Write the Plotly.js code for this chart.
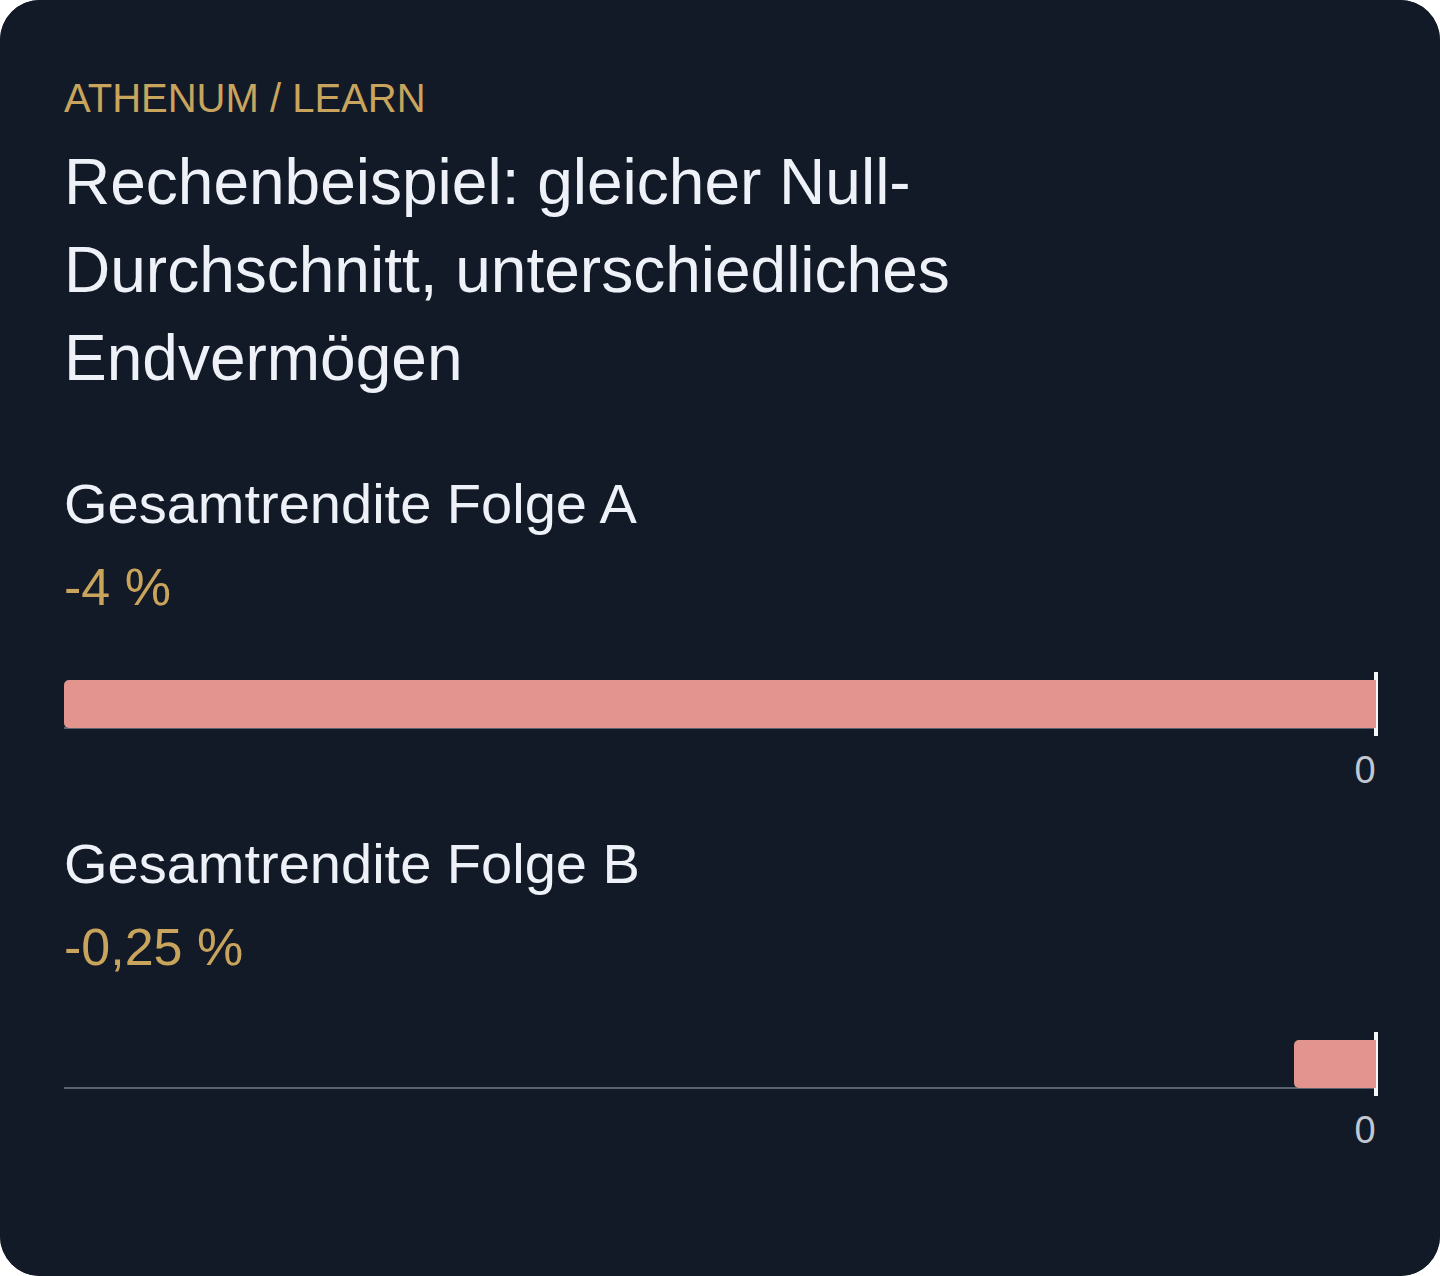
<!DOCTYPE html>
<html>
<head>
<meta charset="utf-8">
<script src="https://cdn.plot.ly/plotly-3.0.1.min.js"></script>
<style>
  html, body { margin: 0; padding: 0; background: #ffffff; }
  #card { width: 1440px; height: 1276px; border-radius: 40px; overflow: hidden; background: #131a27; }
</style>
</head>
<body>
<div id="card"><div id="chart" style="width:1440px;height:1276px;"></div></div>
<script>
// ---- data ----
const kicker = 'ATHENUM / LEARN';
const titleLines = ['Rechenbeispiel: gleicher Null-', 'Durchschnitt, unterschiedliches', 'Endvermögen'];
const seriesNames = ['Gesamtrendite Folge A', 'Gesamtrendite Folge B'];
const seriesValues = [-4, -0.25];
const valueLabels = ['-4 %', '-0,25 %'];
const tickValues = [0];
const tickLabels = ['0'];

// ---- layout helpers ----
const W = 1440, H = 1276;
const FONT = '"Liberation Sans", Arial, Helvetica, sans-serif';
const BG = '#131a27';
const GOLD = '#c9a45c';
const TEXT = '#eef2f8';
const BAR = '#e4948e';
const px = (y) => 1 - y / H;          // pixel row -> paper y
const plotLeft = 64, zeroPx = 1376, zeroPad = 2;   // keep room so the zero line is not clipped
const xdom = [plotLeft / W, (zeroPx + zeroPad) / W];
const plotTops = [672, 1032];
const plotH = 64;
const nameBase = [523, 883];
const valueBase = [605, 965];
const xmin = Math.min(...seriesValues);
const xmax = -xmin * zeroPad / (zeroPx - plotLeft);

// annotation centred vertically on (baseline - 0.3465*size)
function textAnn(text, baseline, size, color) {
  return {
    xref: 'paper', yref: 'paper', x: 62 / W, y: px(baseline - 0.3465 * size),
    xanchor: 'left', yanchor: 'middle', showarrow: false, align: 'left',
    text: text, font: { family: FONT, size: size, color: color }
  };
}

const annotations = [];
annotations.push(textAnn(kicker, 112, 40, GOLD));
titleLines.forEach((t, i) => annotations.push(textAnn(t, 204 + 88 * i, 64, TEXT)));

const data = [];
const shapes = [];
const layout = {
  width: W, height: H,
  margin: { l: 0, r: 0, t: 0, b: 0 },
  paper_bgcolor: BG, plot_bgcolor: BG,
  showlegend: false,
  barcornerradius: 5,
  bargap: 0.25,
  font: { family: FONT },
  annotations: annotations,
  shapes: shapes
};

seriesNames.forEach((name, i) => {
  const sfx = i === 0 ? '' : String(i + 1);
  data.push({
    type: 'bar', orientation: 'h',
    x: [seriesValues[i]], y: [name],
    xaxis: 'x' + sfx, yaxis: 'y' + sfx,
    marker: { color: BAR, line: { width: 0 } },
    hoverinfo: 'x'
  });
  layout['xaxis' + sfx] = {
    domain: xdom,
    anchor: 'y' + sfx,
    range: [xmin, xmax],
    showgrid: false, showline: false,
    zeroline: true, zerolinecolor: '#f4f6fa', zerolinewidth: 4,
    tickmode: 'array', tickvals: tickValues, ticktext: tickLabels,
    ticks: '', ticklabelshift: -11, ticklabelstandoff: 8,
    tickfont: { family: FONT, size: 38, color: '#c1c8d2' },
    fixedrange: true
  };
  const top = plotTops[i];
  layout['yaxis' + sfx] = {
    domain: [px(top + plotH), px(top)],
    anchor: 'x' + sfx,
    type: 'category',
    range: [-0.5, 0.5],
    showgrid: false, zeroline: false, showline: false,
    showticklabels: false, ticks: '',
    fixedrange: true
  };
  shapes.push({
    type: 'line', xref: 'x' + sfx, yref: 'y' + sfx,
    x0: xmin, x1: 0, y0: -0.375, y1: -0.375,
    line: { color: '#5a6270', width: 2 }, layer: 'below'
  });
  annotations.push(textAnn(name, nameBase[i], 56, TEXT));
  annotations.push(textAnn(valueLabels[i], valueBase[i], 52, GOLD));
});

Plotly.newPlot('chart', data, layout, { displayModeBar: false, staticPlot: true });
</script>
</body>
</html>
